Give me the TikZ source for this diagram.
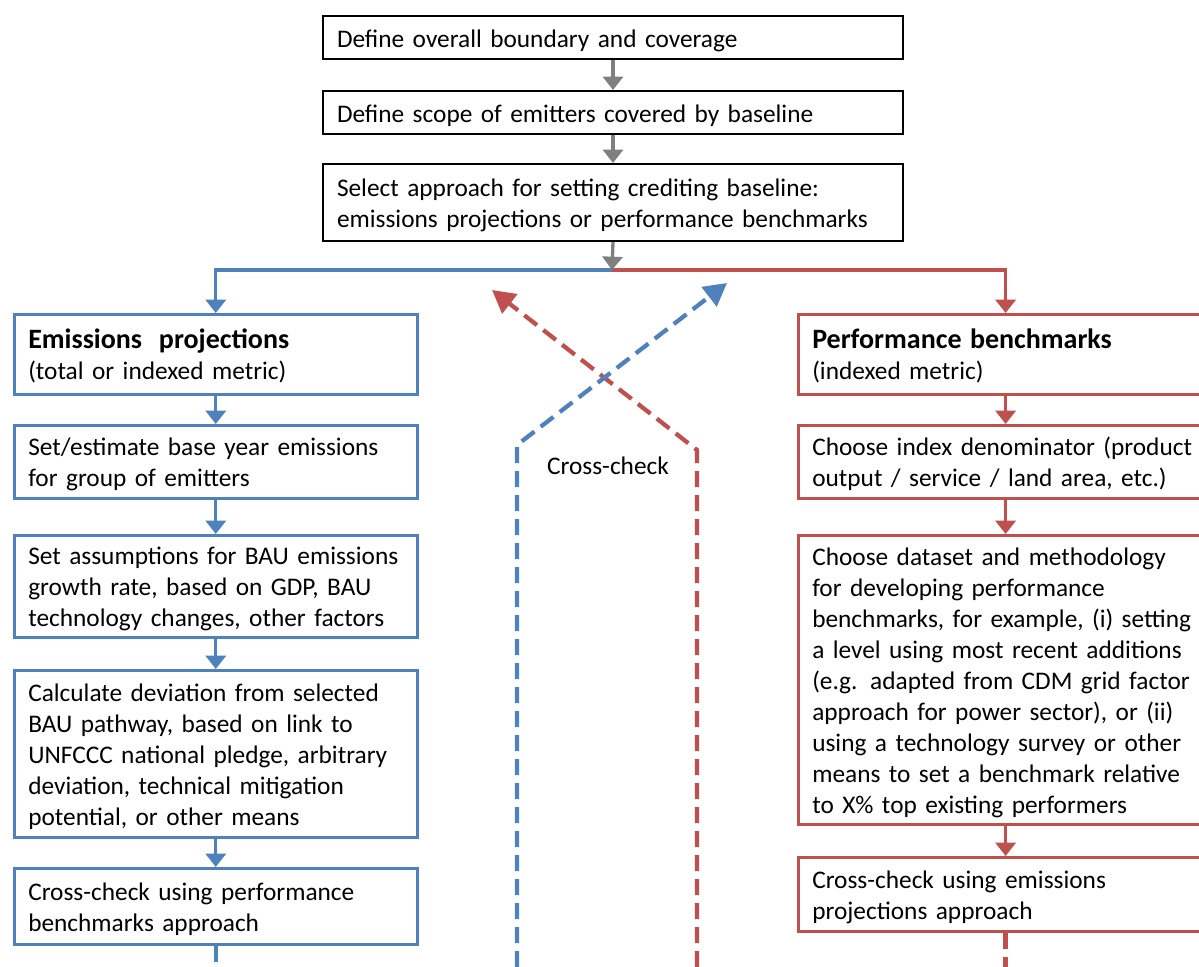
\documentclass[tikz,border=0pt]{standalone}
\usepackage{fontspec}
\setmainfont{Carlito}
\usetikzlibrary{arrows.meta}
\definecolor{cblue}{HTML}{4F81BD}
\definecolor{cred}{HTML}{C0504D}
\definecolor{cgray}{HTML}{7F7F7F}
% left-aligned lines that never re-break, set a little low in the box
\newcommand{\boxlines}[1]{\raisebox{-2.5pt}[\height][\depth]{\begin{tabular}{@{}l@{}}#1\end{tabular}}}
\newcommand{\headline}[1]{{\fontsize{21}{24}\selectfont\bfseries #1}}

\begin{document}
\begin{tikzpicture}[x=0.75pt,y=-0.75pt,
  every node/.style={font=\fontsize{19}{23.25}\selectfont},
  basebox/.style={draw, rectangle, anchor=north west, align=left,
                  inner xsep=10.5pt, inner ysep=0pt},
  blackbox/.style={basebox, line width=1.5pt, text width=414pt},
  bluebox/.style={basebox, draw=cblue, line width=1.9pt, text width=281.25pt},
  redbox/.style={basebox, draw=cred, line width=1.9pt, text width=290pt},
  flow/.style={line width=2.5pt, -{Triangle[length=10pt,width=15pt]}},
  crossline/.style={line width=3.2pt, dash pattern=on 12pt off 6pt},
  crossarrow/.style={crossline, -{Triangle[length=17pt,width=18pt]}}
]
\useasboundingbox (0,0) rectangle (1199,967);

% common trunk
\node[blackbox, minimum height=32.25pt] (b1) at (322,15)
  {\boxlines{Define overall boundary and coverage}};
\node[blackbox, minimum height=32.25pt] (b2) at (322,90)
  {\boxlines{Define scope of emitters covered by baseline}};
\node[blackbox, minimum height=57.75pt] (b3) at (322,163)
  {\boxlines{Select approach for setting crediting baseline:\\
   emissions projections or performance benchmarks}};

% emissions projections branch
\node[bluebox, minimum height=60pt] (l1) at (13,313)
  {\boxlines{\headline{Emissions\ \ projections}\\(total or indexed metric)}};
\node[bluebox, minimum height=54.75pt] (l2) at (13,424)
  {\boxlines{Set/estimate base year emissions\\for group of emitters}};
\node[bluebox, minimum height=76.5pt] (l3) at (13,534)
  {\boxlines{Set assumptions for BAU emissions\\growth rate, based on GDP, BAU\\
   technology changes, other factors}};
\node[bluebox, minimum height=125.25pt] (l4) at (13,669)
  {\boxlines{Calculate deviation from selected\\BAU pathway, based on link to\\
   UNFCCC national pledge, arbitrary\\deviation, technical mitigation\\
   potential, or other means}};
\node[bluebox, minimum height=57pt] (l5) at (13,867)
  {\boxlines{Cross-check using performance\\benchmarks approach}};

% performance benchmarks branch
\node[redbox, minimum height=60pt] (r1) at (797,313)
  {\boxlines{\headline{Performance benchmarks}\\(indexed metric)}};
\node[redbox, minimum height=54.75pt] (r2) at (797,424)
  {\boxlines{Choose index denominator (product\\output / service / land area, etc.)}};
\node[redbox, minimum height=216.75pt] (r3) at (797,534)
  {\boxlines{Choose dataset and methodology\\for developing performance\\
   benchmarks, for example, (i) setting\\a level using most recent additions\\
   (e.g. adapted from CDM grid factor\\approach for power sector), or (ii)\\
   using a technology survey or other\\means to set a benchmark relative\\
   to X\% top existing performers}};
\node[redbox, minimum height=55.5pt] (r4) at (797,856)
  {\boxlines{Cross-check using emissions\\projections approach}};

% trunk connectors and the split
\coordinate (split) at (612,270);
\draw[flow, cblue] (split) -| (l1.north);
\draw[flow, cred] (split) -| (r1.north);
\draw[flow, cgray] (b1.south) -- (b2.north);
\draw[flow, cgray] (b2.south) -- (b3.north);
\draw[flow, cgray] (b3.south) -- (split);

% branch connectors
\draw[flow, cblue] (l1.south) -- (l2.north);
\draw[flow, cblue] (l2.south) -- (l3.north);
\draw[flow, cblue] (l3.south) -- (l4.north);
\draw[flow, cblue] (l4.south) -- (l5.north);
\draw[flow, cred] (r1.south) -- (r2.north);
\draw[flow, cred] (r2.south) -- (r3.north);
\draw[flow, cred] (r3.south) -- (r4.north);

% continuations below the last boxes
\coordinate (lend) at (l5.south |- 0,967);
\coordinate (rend) at (r4.south |- 0,967);
\draw[crossline, cblue] (l5.south) -- (lend);
\draw[crossline, cred] (r4.south) -- (rend);

% cross-check arrows
\coordinate (bfoot) at (517,967);
\coordinate (bknee) at (517,445);
\coordinate (btip) at (727,283);
\coordinate (rfoot) at (697,967);
\coordinate (rknee) at (697,450);
\coordinate (rtip) at (492,290);
\draw[crossarrow, cred] (rfoot) -- (rknee) -- (rtip);
\draw[crossarrow, cblue] (bfoot) -- (bknee) -- (btip);
\node (cc) at (608,466) {Cross-check};
\end{tikzpicture}
\end{document}
